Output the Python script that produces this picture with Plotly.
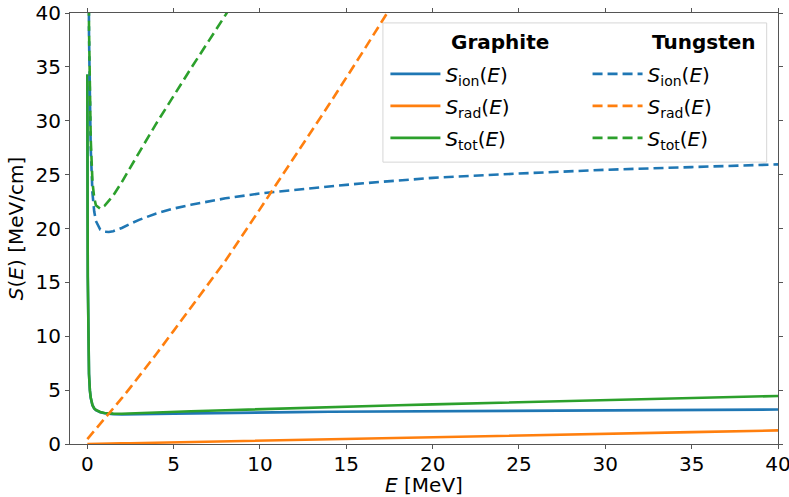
import plotly.graph_objects as go

# Electron kinetic energy grid [MeV]
E = [0.005, 0.01, 0.015, 0.02, 0.03, 0.05, 0.075, 0.1, 0.15, 0.2, 0.3, 0.4, 0.5, 0.75,
     1, 1.25, 1.5, 2, 2.5, 3, 4, 5, 6, 8, 10, 12, 14, 16, 18, 20, 25, 30, 35, 40]

# Graphite stopping powers [MeV/cm]
graphite_ion = [34.3, 33.0, 26.0, 21.0, 15.5, 10.5, 8.0, 6.5, 5.0, 4.3, 3.6, 3.3, 3.15, 2.95,
                2.85, 2.8, 2.77, 2.75, 2.75, 2.76, 2.79, 2.82, 2.85, 2.89, 2.93, 2.96, 2.99, 3.01,
                3.03, 3.05, 3.1, 3.14, 3.17, 3.2]
graphite_rad = [0.0, 0.0, 0.0, 0.001, 0.001, 0.002, 0.002, 0.003, 0.004, 0.005, 0.008, 0.011, 0.014, 0.022,
                0.03, 0.038, 0.046, 0.06, 0.075, 0.09, 0.12, 0.155, 0.185, 0.245, 0.31, 0.37, 0.435, 0.5,
                0.56, 0.625, 0.78, 0.94, 1.1, 1.26]
graphite_tot = [34.3, 33.0, 26.0, 21.0, 15.5, 10.5, 8.0, 6.5, 5.0, 4.31, 3.61, 3.31, 3.16, 2.97,
                2.88, 2.84, 2.82, 2.81, 2.83, 2.85, 2.91, 2.975, 3.035, 3.135, 3.24, 3.33, 3.425, 3.51,
                3.59, 3.675, 3.88, 4.08, 4.27, 4.46]

# Tungsten stopping powers [MeV/cm]
tungsten_ion = [150, 180, 160, 135, 102, 68, 48, 38, 31, 27.5, 23.3, 21.6, 20.7, 19.9,
                19.7, 19.68, 19.75, 20.05, 20.45, 20.8, 21.4, 21.85, 22.2, 22.8, 23.25, 23.6, 23.9, 24.2,
                24.45, 24.7, 25.1, 25.45, 25.7, 25.95]
tungsten_rad = [0.46, 0.47, 0.48, 0.49, 0.51, 0.55, 0.6, 0.65, 0.75, 0.85, 1.05, 1.25, 1.45, 1.93,
                2.4, 2.85, 3.3, 4.25, 5.25, 6.25, 8.35, 10.5, 12.65, 17.0, 21.8, 26.6, 31.5, 36.5,
                41.5, 46.5, 59, 72, 85, 98]
tungsten_tot = [150.5, 180.5, 160.5, 135.5, 102.5, 68.6, 48.6, 38.65, 31.75, 28.35, 24.35, 22.85, 22.15, 21.83,
                22.1, 22.53, 23.05, 24.3, 25.7, 27.05, 29.75, 32.35, 34.85, 39.8, 45.05, 50.2, 55.4, 60.7,
                65.95, 71.2, 84.1, 97.45, 110.7, 123.95]

x_ticks = [0, 5, 10, 15, 20, 25, 30, 35, 40]
y_ticks = [0, 5, 10, 15, 20, 25, 30, 35, 40]

labels = ["<i>S</i><sub>ion</sub>(<i>E</i>)",
          "<i>S</i><sub>rad</sub>(<i>E</i>)",
          "<i>S</i><sub>tot</sub>(<i>E</i>)"]
colors = ["#1f77b4", "#ff7f0e", "#2ca02c"]

fig = go.Figure()
for i, (ys, lab) in enumerate(zip([graphite_ion, graphite_rad, graphite_tot], labels)):
    fig.add_trace(go.Scatter(x=E, y=ys, mode="lines", name=lab, legend="legend",
                             legendgroup="g%d" % i,
                             line=dict(color=colors[i], width=2.6)))
for i, (ys, lab) in enumerate(zip([tungsten_ion, tungsten_rad, tungsten_tot], labels)):
    fig.add_trace(go.Scatter(x=E, y=ys, mode="lines", name=lab, legend="legend2",
                             legendgroup="w%d" % i,
                             line=dict(color=colors[i], width=2.6, dash="10px,5px")))

FONT = "DejaVu Sans"
FS = 20
axis_common = dict(showline=True, linecolor="#555555", linewidth=1, mirror="ticks",
                   ticks="outside", ticklen=4, tickcolor="#555555", tickwidth=1,
                   showgrid=False, zeroline=False, automargin=False,
                   ticklabeloverflow="allow",
                   tickfont=dict(family=FONT, size=FS, color="black"))

fig.update_layout(
    width=789, height=497,
    margin=dict(l=70, r=11, t=13, b=53),
    paper_bgcolor="white", plot_bgcolor="white",
    font=dict(family=FONT, size=FS, color="black"),
    xaxis=dict(range=[-1, 40], tickvals=x_ticks, ticklabelstandoff=-2,
               title=dict(text="<i>E</i> [MeV]", font=dict(family=FONT, size=FS), standoff=2),
               **axis_common),
    yaxis=dict(range=[0, 40], tickvals=y_ticks,
               title=dict(text="<i>S</i>(<i>E</i>) [MeV/cm]", font=dict(family=FONT, size=FS), standoff=6),
               **axis_common),
    legend=dict(x=0.4455, y=0.904, xanchor="left", yanchor="top", bgcolor="rgba(0,0,0,0)",
                borderwidth=0, font=dict(family=FONT, size=FS), tracegroupgap=3, itemwidth=50),
    legend2=dict(x=0.731, y=0.904, xanchor="left", yanchor="top", bgcolor="rgba(0,0,0,0)",
                 borderwidth=0, font=dict(family=FONT, size=FS), tracegroupgap=3, itemwidth=50),
    shapes=[dict(type="rect", xref="paper", yref="paper", x0=0.442, x1=0.984, y0=0.654, y1=0.977,
                 line=dict(color="#d6d6d6", width=1), fillcolor="rgba(255,255,255,0.85)",
                 layer="above")],
    annotations=[
        dict(text="<b>Graphite</b>", xref="paper", yref="paper", x=0.535, y=0.933,
             xanchor="left", yanchor="middle", showarrow=False, font=dict(family=FONT, size=FS)),
        dict(text="<b>Tungsten</b>", xref="paper", yref="paper", x=0.819, y=0.933,
             xanchor="left", yanchor="middle", showarrow=False, font=dict(family=FONT, size=FS)),
    ],
)

# remove the default 8px page margin so the figure sits at the window's top-left corner
fig.write_html("out.html", config={"displayModeBar": False},
               post_script="document.body.style.margin='0';")
